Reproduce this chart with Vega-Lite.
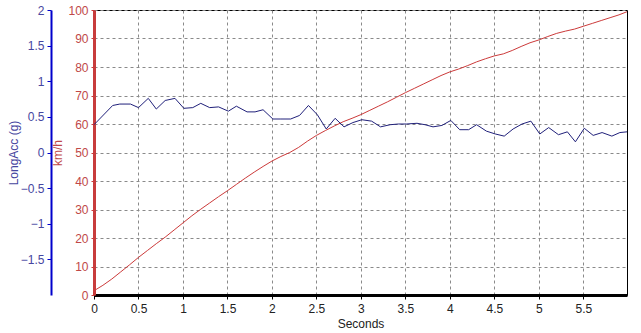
{
  "$schema": "https://vega.github.io/schema/vega-lite/v6.json",
  "width": 533,
  "height": 285,
  "autosize": {"type": "none"},
  "padding": {"left": 94, "top": 10, "right": 14, "bottom": 38},
  "background": "#ffffff",
  "config": {
    "font": "Liberation Sans",
    "view": {"stroke": "#000000", "strokeWidth": 1},
    "axis": {"labelFont": "Liberation Sans", "titleFont": "Liberation Sans", "labelFontSize": 11, "titleFontSize": 11, "titleFontWeight": "normal"}
  },
  "datasets": {
    "speed": [
      {"t": 0.0, "kmh": 1.5}, {"t": 0.1, "kmh": 3.4}, {"t": 0.2, "kmh": 5.6}, {"t": 0.3, "kmh": 8.1},
      {"t": 0.4, "kmh": 10.6}, {"t": 0.5, "kmh": 13.2}, {"t": 0.6, "kmh": 15.6}, {"t": 0.7, "kmh": 18.0},
      {"t": 0.8, "kmh": 20.3}, {"t": 0.9, "kmh": 22.8}, {"t": 1.0, "kmh": 25.3}, {"t": 1.1, "kmh": 27.8},
      {"t": 1.2, "kmh": 30.1}, {"t": 1.3, "kmh": 32.3}, {"t": 1.4, "kmh": 34.5}, {"t": 1.5, "kmh": 36.6},
      {"t": 1.6, "kmh": 38.8}, {"t": 1.7, "kmh": 41.0}, {"t": 1.8, "kmh": 43.1}, {"t": 1.9, "kmh": 45.1},
      {"t": 2.0, "kmh": 47.0}, {"t": 2.1, "kmh": 48.6}, {"t": 2.2, "kmh": 50.0}, {"t": 2.3, "kmh": 51.8},
      {"t": 2.4, "kmh": 54.0}, {"t": 2.5, "kmh": 56.0}, {"t": 2.6, "kmh": 57.7}, {"t": 2.7, "kmh": 59.3},
      {"t": 2.8, "kmh": 60.8}, {"t": 2.9, "kmh": 62.0}, {"t": 3.0, "kmh": 63.3}, {"t": 3.1, "kmh": 64.8},
      {"t": 3.2, "kmh": 66.3}, {"t": 3.3, "kmh": 67.8}, {"t": 3.4, "kmh": 69.4}, {"t": 3.5, "kmh": 71.0},
      {"t": 3.6, "kmh": 72.5}, {"t": 3.7, "kmh": 74.0}, {"t": 3.8, "kmh": 75.5}, {"t": 3.9, "kmh": 77.0},
      {"t": 4.0, "kmh": 78.3}, {"t": 4.1, "kmh": 79.3}, {"t": 4.2, "kmh": 80.5}, {"t": 4.3, "kmh": 81.8},
      {"t": 4.4, "kmh": 82.9}, {"t": 4.5, "kmh": 83.9}, {"t": 4.6, "kmh": 84.6}, {"t": 4.7, "kmh": 85.8},
      {"t": 4.8, "kmh": 87.2}, {"t": 4.9, "kmh": 88.5}, {"t": 5.0, "kmh": 89.5}, {"t": 5.1, "kmh": 90.7},
      {"t": 5.2, "kmh": 91.8}, {"t": 5.3, "kmh": 92.6}, {"t": 5.4, "kmh": 93.3}, {"t": 5.5, "kmh": 94.3},
      {"t": 5.6, "kmh": 95.3}, {"t": 5.7, "kmh": 96.3}, {"t": 5.8, "kmh": 97.3}, {"t": 5.9, "kmh": 98.3},
      {"t": 5.99, "kmh": 99.4}
    ],
    "acc": [
      {"t": 0.0, "g": 0.39}, {"t": 0.21, "g": 0.66}, {"t": 0.29, "g": 0.68}, {"t": 0.41, "g": 0.68},
      {"t": 0.5, "g": 0.63}, {"t": 0.61, "g": 0.76}, {"t": 0.7, "g": 0.61}, {"t": 0.8, "g": 0.73},
      {"t": 0.91, "g": 0.76}, {"t": 1.01, "g": 0.62}, {"t": 1.11, "g": 0.63}, {"t": 1.2, "g": 0.69},
      {"t": 1.3, "g": 0.63}, {"t": 1.4, "g": 0.64}, {"t": 1.51, "g": 0.58}, {"t": 1.6, "g": 0.65},
      {"t": 1.72, "g": 0.57}, {"t": 1.81, "g": 0.57}, {"t": 1.9, "g": 0.6}, {"t": 2.01, "g": 0.47},
      {"t": 2.1, "g": 0.47}, {"t": 2.21, "g": 0.47}, {"t": 2.31, "g": 0.52}, {"t": 2.41, "g": 0.66},
      {"t": 2.51, "g": 0.53}, {"t": 2.61, "g": 0.33}, {"t": 2.71, "g": 0.48}, {"t": 2.81, "g": 0.36},
      {"t": 2.91, "g": 0.42}, {"t": 3.01, "g": 0.46}, {"t": 3.12, "g": 0.44}, {"t": 3.22, "g": 0.36},
      {"t": 3.33, "g": 0.39}, {"t": 3.42, "g": 0.4}, {"t": 3.51, "g": 0.4}, {"t": 3.63, "g": 0.41},
      {"t": 3.72, "g": 0.39}, {"t": 3.81, "g": 0.36}, {"t": 3.91, "g": 0.38}, {"t": 4.01, "g": 0.45},
      {"t": 4.11, "g": 0.32}, {"t": 4.21, "g": 0.32}, {"t": 4.3, "g": 0.39}, {"t": 4.41, "g": 0.3},
      {"t": 4.51, "g": 0.26}, {"t": 4.61, "g": 0.23}, {"t": 4.71, "g": 0.33}, {"t": 4.81, "g": 0.4},
      {"t": 4.91, "g": 0.44}, {"t": 5.01, "g": 0.26}, {"t": 5.11, "g": 0.35}, {"t": 5.22, "g": 0.25},
      {"t": 5.32, "g": 0.29}, {"t": 5.41, "g": 0.15}, {"t": 5.51, "g": 0.34}, {"t": 5.61, "g": 0.24},
      {"t": 5.71, "g": 0.28}, {"t": 5.82, "g": 0.23}, {"t": 5.91, "g": 0.28}, {"t": 5.99, "g": 0.29}
    ]
  },
  "encoding": {
    "x": {
      "field": "t", "type": "quantitative",
      "scale": {"domain": [0, 5.99], "nice": false, "zero": false},
      "axis": {
        "title": "Seconds", "values": [0, 0.5, 1, 1.5, 2, 2.5, 3, 3.5, 4, 4.5, 5, 5.5],
        "format": "~g",
        "grid": true, "gridColor": "#8a8a8a", "gridDash": [3, 3], "gridOpacity": 1,
        "domainColor": "#000000", "domainWidth": 3, "tickColor": "#000000", "tickSize": 4,
        "labelColor": "#222222", "titleColor": "#222222", "labelPadding": 4, "titlePadding": 4,
        "labelFontSize": 12, "titleFontSize": 12,
        "labelFlush": false
      }
    }
  },
  "layer": [
    {
      "data": {"name": "speed"},
      "mark": {"type": "line", "color": "#cc3a3a", "strokeWidth": 1},
      "encoding": {
        "y": {
          "field": "kmh", "type": "quantitative",
          "scale": {"domain": [0, 100], "nice": false},
          "axis": {
            "orient": "left", "title": "km/h", "values": [0, 10, 20, 30, 40, 50, 60, 70, 80, 90, 100],
            "format": "d",
            "grid": true, "gridColor": "#8a8a8a", "gridDash": [3, 3], "gridOpacity": 1,
            "domainColor": "#c83c3c", "domainWidth": 3, "tickColor": "#c83c3c", "tickSize": 3,
            "labelColor": "#c04848", "titleColor": "#c04848", "labelPadding": 3, "titlePadding": 3,
            "labelFontSize": 12, "titleFontSize": 12,
            "labelFlush": false
          }
        }
      }
    },
    {
      "data": {"name": "acc"},
      "mark": {"type": "line", "color": "#20207a", "strokeWidth": 1},
      "encoding": {
        "y": {
          "field": "g", "type": "quantitative",
          "scale": {"domain": [-2, 2], "nice": false},
          "axis": {
            "orient": "left", "offset": 43, "title": "LongAcc (g)",
            "values": [-1.5, -1, -0.5, 0, 0.5, 1, 1.5, 2],
            "format": "~g",
            "grid": false,
            "domainColor": "#0000cc", "domainWidth": 2, "tickColor": "#0000cc", "tickSize": 4,
            "labelColor": "#4646a0", "titleColor": "#4646a0", "labelPadding": 3, "titlePadding": 0,
            "labelFontSize": 12, "titleFontSize": 12,
            "labelFlush": false
          }
        }
      }
    }
  ],
  "resolve": {"scale": {"y": "independent"}, "axis": {"y": "independent"}}
}
